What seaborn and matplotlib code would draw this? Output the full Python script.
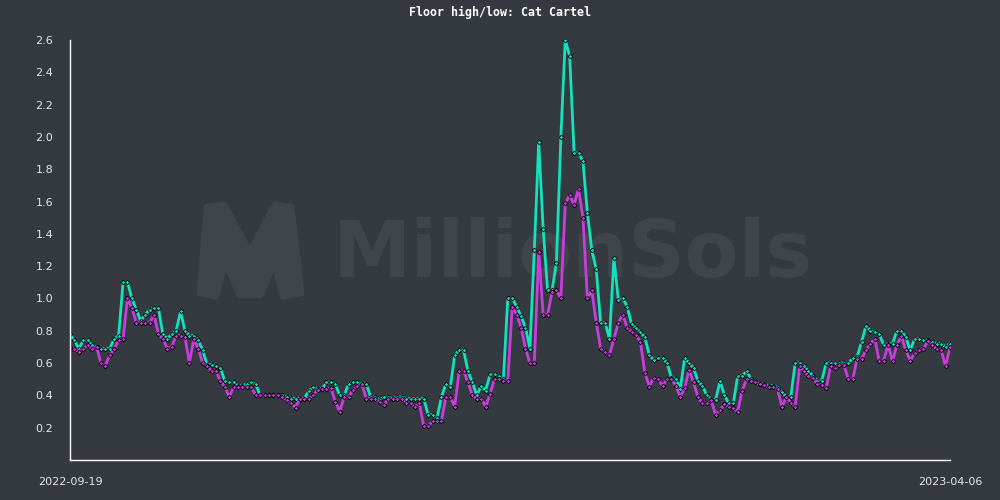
import pandas as pd
import seaborn as sns
import matplotlib.pyplot as plt
from matplotlib.patches import Polygon

sns.set_theme(style="white")

BG = "#353a40"
WM = "#40454b"

# daily floor prices, 2022-09-19 .. 2023-04-06
start = "2022-09-19"
end = "2023-04-06"

floor_high = [
    0.78, 0.74, 0.69, 0.74, 0.74, 0.71, 0.70, 0.69, 0.69, 0.69,
    0.75, 0.77, 1.10, 1.10, 1.00, 0.93, 0.86, 0.90, 0.93, 0.94,
    0.94, 0.78, 0.75, 0.78, 0.80, 0.92, 0.80, 0.77, 0.77, 0.74,
    0.68, 0.59, 0.59, 0.58, 0.57, 0.49, 0.48, 0.48, 0.46, 0.46,
    0.47, 0.48, 0.47, 0.40, 0.40, 0.40, 0.40, 0.40, 0.40, 0.39,
    0.38, 0.38, 0.38, 0.38, 0.43, 0.45, 0.44, 0.44, 0.48, 0.48,
    0.47, 0.40, 0.40, 0.47, 0.48, 0.48, 0.47, 0.47, 0.39, 0.39,
    0.37, 0.39, 0.39, 0.38, 0.39, 0.39, 0.38, 0.38, 0.38, 0.38,
    0.38, 0.28, 0.28, 0.26, 0.39, 0.47, 0.45, 0.65, 0.68, 0.68,
    0.55, 0.48, 0.40, 0.46, 0.43, 0.53, 0.53, 0.52, 0.50, 1.00,
    1.00, 0.95, 0.89, 0.82, 0.69, 1.30, 1.97, 1.43, 1.05, 1.05,
    1.22, 2.00, 2.60, 2.50, 1.90, 1.90, 1.85, 1.53, 1.30, 1.18,
    0.85, 0.85, 0.75, 1.25, 0.99, 1.00, 0.95, 0.84, 0.82, 0.79,
    0.76, 0.65, 0.62, 0.63, 0.63, 0.60, 0.51, 0.50, 0.44, 0.63,
    0.60, 0.57, 0.49, 0.46, 0.40, 0.38, 0.37, 0.49, 0.40, 0.35,
    0.35, 0.52, 0.52, 0.55, 0.50, 0.48, 0.47, 0.47, 0.46, 0.46,
    0.45, 0.42, 0.39, 0.39, 0.60, 0.60, 0.58, 0.55, 0.52, 0.49,
    0.49, 0.60, 0.60, 0.60, 0.60, 0.60, 0.60, 0.63, 0.64, 0.73,
    0.83, 0.80, 0.79, 0.78, 0.71, 0.72, 0.72, 0.80, 0.80, 0.76,
    0.68, 0.75, 0.75, 0.74, 0.74, 0.73, 0.72, 0.72, 0.70, 0.72,
]

floor_low = [
    0.70, 0.69, 0.67, 0.69, 0.71, 0.69, 0.70, 0.60, 0.585, 0.65,
    0.69, 0.74, 0.75, 1.00, 0.94, 0.85, 0.85, 0.85, 0.85, 0.90,
    0.78, 0.75, 0.69, 0.70, 0.77, 0.77, 0.76, 0.60, 0.75, 0.69,
    0.60, 0.585, 0.55, 0.55, 0.49, 0.455, 0.39, 0.45, 0.45, 0.45,
    0.455, 0.45, 0.40, 0.40, 0.40, 0.40, 0.40, 0.40, 0.39, 0.37,
    0.35, 0.325, 0.38, 0.38, 0.38, 0.40, 0.435, 0.44, 0.44, 0.445,
    0.36, 0.30, 0.39, 0.39, 0.435, 0.46, 0.47, 0.38, 0.38, 0.38,
    0.36, 0.34, 0.38, 0.38, 0.38, 0.38, 0.355, 0.35, 0.33, 0.35,
    0.21, 0.21, 0.24, 0.24, 0.24, 0.39, 0.39, 0.33, 0.55, 0.55,
    0.48, 0.40, 0.38, 0.38, 0.33, 0.41, 0.50, 0.50, 0.49, 0.49,
    0.95, 0.90, 0.82, 0.69, 0.60, 0.60, 1.29, 0.90, 0.90, 1.04,
    1.05, 1.00, 1.59, 1.64, 1.58, 1.68, 1.50, 1.00, 1.05, 0.85,
    0.69, 0.67, 0.65, 0.75, 0.85, 0.90, 0.82, 0.795, 0.775, 0.73,
    0.54, 0.455, 0.51, 0.50, 0.46, 0.50, 0.50, 0.46, 0.39, 0.445,
    0.56, 0.48, 0.39, 0.35, 0.35, 0.37, 0.28, 0.31, 0.345, 0.33,
    0.32, 0.30, 0.43, 0.50, 0.49, 0.48, 0.47, 0.465, 0.45, 0.45,
    0.44, 0.33, 0.39, 0.355, 0.33, 0.58, 0.55, 0.52, 0.51, 0.47,
    0.465, 0.445, 0.58, 0.57, 0.59, 0.59, 0.50, 0.50, 0.625, 0.625,
    0.68, 0.72, 0.75, 0.61, 0.615, 0.715, 0.61, 0.715, 0.765, 0.68,
    0.615, 0.66, 0.68, 0.69, 0.735, 0.715, 0.685, 0.68, 0.58, 0.70,
]

yticks = [0.2, 0.4, 0.6, 0.8, 1.0, 1.2, 1.4, 1.6, 1.8, 2.0, 2.2, 2.4, 2.6]

dates = pd.date_range(start, end, freq="D")
df = pd.DataFrame({"date": dates, "high": floor_high, "low": floor_low})

fig = plt.figure(figsize=(10, 5), dpi=100, facecolor=BG)
ax = fig.add_axes([0.07, 0.08, 0.88, 0.84])
ax.set_facecolor("none")
ax.set_zorder(1)

# watermark (logo + name), in pixel coords of the 1000x500 canvas
logo = [(200, 293), (207, 207), (224, 205), (250, 253), (275, 205), (291, 207),
        (301, 293), (283, 296), (277, 272), (272, 268), (260, 295), (240, 295),
        (228, 268), (222, 272), (216, 296)]
fig.patches.append(Polygon([(x / 1000, 1 - y / 500) for x, y in logo], closed=True,
                           transform=fig.transFigure, facecolor=WM, edgecolor=WM,
                           linewidth=5, joinstyle="round", zorder=0))
fig.text(0.333, 0.446, "MillionSols", color=WM, fontsize=56.5, fontweight="bold",
         family="DejaVu Sans", ha="left", va="baseline", zorder=0)

sns.lineplot(data=df, x="date", y="high", ax=ax, color="#12e2bd", linewidth=2,
             marker="D", markersize=2.4, markeredgecolor="black", markeredgewidth=0.6)
sns.lineplot(data=df, x="date", y="low", ax=ax, color="#c93ddf", linewidth=2,
             marker="D", markersize=2.4, markeredgecolor="black", markeredgewidth=0.6)

ax.set_xlim(dates[0], dates[-1])
ax.set_ylim(0, 2.6)
ax.set_yticks(yticks)
ax.set_yticklabels([f"{v:.1f}" for v in yticks])
ax.set_xticks([dates[0], dates[-1]])
ax.set_xticklabels([start, end])
ax.set_xlabel("")
ax.set_ylabel("")
ax.tick_params(colors="#e8e8e8", labelsize=8, length=0, pad=12)

for side in ["top", "right"]:
    ax.spines[side].set_visible(False)
for side in ["left", "bottom"]:
    ax.spines[side].set_color("white")
    ax.spines[side].set_linewidth(1)

fig.text(0.5, 0.975, "Floor high/low: Cat Cartel", color="white", fontsize=8.4,
         fontweight="bold", family="DejaVu Sans Mono", ha="center", va="center")

plt.savefig("out.png", facecolor=BG)
